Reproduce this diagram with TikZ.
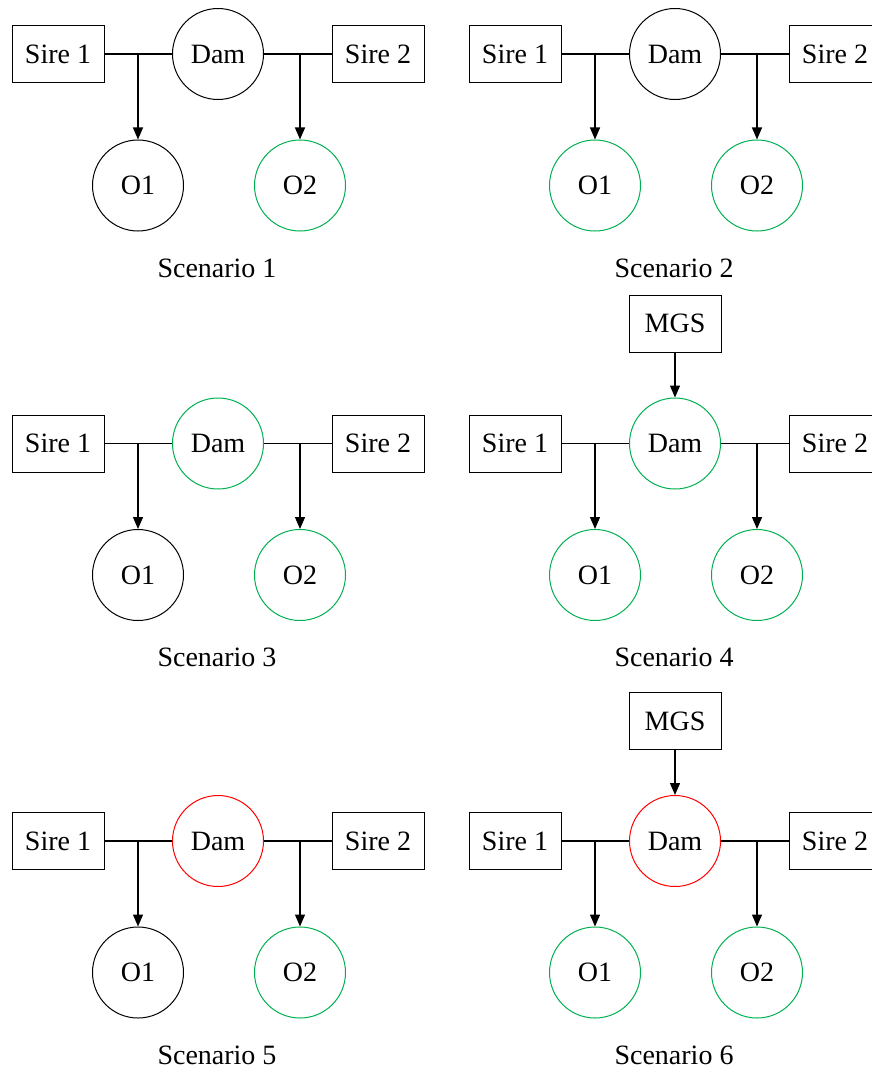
\documentclass[tikz,border=0pt]{standalone}
\usepackage{fontspec}
\setmainfont{Liberation Serif}
\usetikzlibrary{arrows.meta,calc}
\definecolor{pgreen}{RGB}{0,176,80}
\definecolor{pred}{RGB}{255,0,0}
\newcommand{\famrow}[7]{%
  % #1 id, #2 x offset, #3 y of Dam, #4 dam colour, #5 O1 colour, #6 O2 colour, #7 scenario number
  \node[person, draw=#4] (dam#1) at (218+#2,#3) {Dam};
  \node[sirebox] (sa#1) at (58+#2,#3) {Sire 1};
  \node[sirebox] (sb#1) at (378+#2,#3) {Sire 2};
  \node[person, draw=#5] (oa#1) at (138+#2,#3+131.5) {O1};
  \node[person, draw=#6] (ob#1) at (300+#2,#3+131.5) {O2};
  \node[caption] (lab#1) at (217+#2,#3+214) {Scenario #7};
  \coordinate (ja#1) at (oa#1.north |- dam#1.center);
  \coordinate (jb#1) at (ob#1.north |- dam#1.center);
  \draw[mate] (sa#1.east) -- (dam#1.west);
  \draw[mate] (dam#1.east) -- (sb#1.west);
  \draw[descent] (ja#1) -- (oa#1.north);
  \draw[descent] (jb#1) -- (ob#1.north);
}
\begin{document}
\begin{tikzpicture}[x=0.5pt,y=-0.5pt,
  every node/.style={font=\fontsize{14}{16}\selectfont},
  person/.style={circle, line width=0.5pt, minimum size=45.5pt, inner sep=0pt},
  sirebox/.style={rectangle, draw, line width=0.5pt, minimum width=46pt, minimum height=28.5pt, inner sep=0pt},
  caption/.style={inner sep=0pt},
  mate/.style={line width=0.55pt},
  descent/.style={line width=0.65pt, -{Triangle[length=6pt,width=5pt]}},
]
\useasboundingbox (0,0) rectangle (872,1070);
\famrow{A}{0}{54}{black}{black}{pgreen}{1}
\famrow{B}{457}{54}{black}{pgreen}{pgreen}{2}
\famrow{C}{0}{443.5}{pgreen}{black}{pgreen}{3}
\famrow{D}{457}{443.5}{pgreen}{pgreen}{pgreen}{4}
\famrow{E}{0}{841}{pred}{black}{pgreen}{5}
\famrow{F}{457}{841}{pred}{pgreen}{pgreen}{6}
\node[sirebox] (mgsD) at (675,323.5) {MGS};
\draw[descent] (mgsD.south) -- (damD.north);
\node[sirebox] (mgsF) at (675,721) {MGS};
\draw[descent] (mgsF.south) -- (damF.north);
\end{tikzpicture}
\end{document}
